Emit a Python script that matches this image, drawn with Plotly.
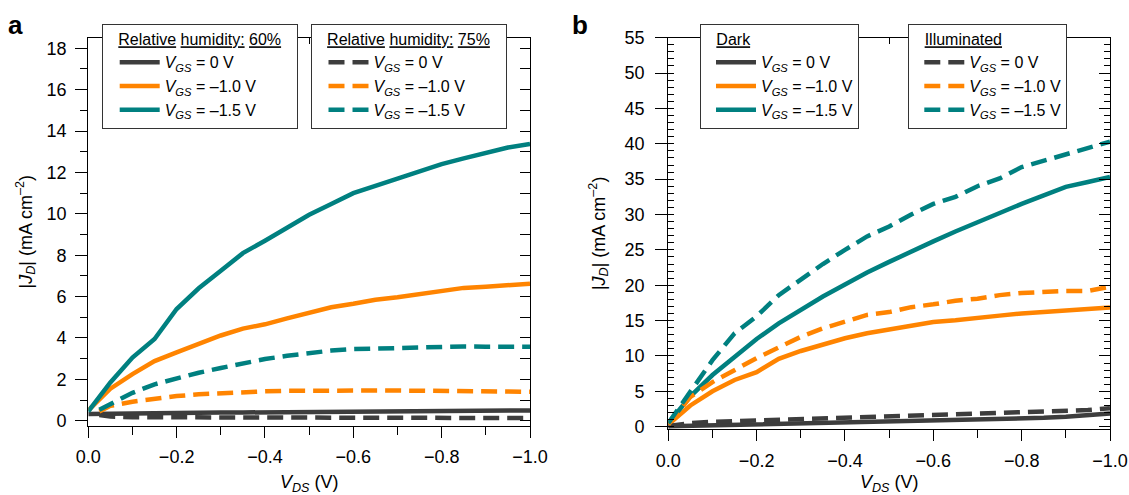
import plotly.graph_objects as go

# ---------------- data ----------------
VDS = [0.0, -0.05, -0.10, -0.15, -0.20, -0.25, -0.30, -0.35, -0.40, -0.45, -0.50,
       -0.55, -0.60, -0.65, -0.70, -0.75, -0.80, -0.85, -0.90, -0.95, -1.00]
VDS_75 = [-0.025, -0.05, -0.10, -0.15, -0.20, -0.25, -0.30, -0.35, -0.40, -0.45, -0.50,
          -0.55, -0.60, -0.65, -0.70, -0.75, -0.80, -0.85, -0.90, -0.95, -1.00]

# panel a : relative humidity 60 % (solid) / 75 % (dashed)
A60_VGS0 = [0.33, 0.35, 0.36, 0.37, 0.38, 0.39, 0.40, 0.40, 0.41, 0.42, 0.42,
            0.43, 0.44, 0.44, 0.45, 0.46, 0.47, 0.47, 0.48, 0.49, 0.50]
A60_VGS10 = [0.50, 1.55, 2.25, 2.88, 3.30, 3.70, 4.12, 4.45, 4.66, 4.95, 5.23,
             5.48, 5.65, 5.85, 5.97, 6.13, 6.28, 6.42, 6.48, 6.55, 6.62]
A60_VGS15 = [0.45, 1.85, 3.05, 3.95, 5.40, 6.40, 7.25, 8.10, 8.70, 9.35, 9.95,
             10.47, 11.00, 11.35, 11.70, 12.07, 12.40, 12.68, 12.95, 13.20, 13.38]
A75_VGS0 = [0.28, 0.20, 0.17, 0.17, 0.16, 0.16, 0.16, 0.15, 0.15, 0.15, 0.15,
            0.15, 0.14, 0.14, 0.14, 0.14, 0.14, 0.13, 0.13, 0.13, 0.13]
A75_VGS10 = [0.45, 0.72, 0.92, 1.08, 1.19, 1.28, 1.34, 1.39, 1.42, 1.45, 1.46,
             1.47, 1.47, 1.46, 1.46, 1.45, 1.44, 1.42, 1.41, 1.40, 1.40]
A75_VGS15 = [0.53, 0.80, 1.35, 1.76, 2.05, 2.32, 2.55, 2.78, 2.98, 3.14, 3.28,
             3.39, 3.46, 3.49, 3.52, 3.54, 3.58, 3.59, 3.58, 3.58, 3.58]

# panel b : dark (solid) / illuminated (dashed)
B_DARK_VGS0 = [0.05, 0.12, 0.20, 0.28, 0.36, 0.42, 0.48, 0.53, 0.58, 0.62, 0.67,
               0.72, 0.78, 0.85, 0.93, 1.02, 1.12, 1.25, 1.40, 1.60, 1.85]
B_DARK_VGS10 = [0.3, 3.0, 5.0, 6.6, 7.7, 9.6, 10.7, 11.6, 12.5, 13.2, 13.7,
                14.3, 14.8, 15.05, 15.45, 15.7, 16.0, 16.2, 16.4, 16.75, 16.85]
B_DARK_VGS15 = [0.5, 4.3, 7.3, 9.9, 12.4, 14.6, 16.5, 18.4, 20.1, 21.8, 23.3,
                24.8, 26.2, 27.6, 28.9, 30.3, 31.5, 32.7, 33.9, 34.6, 35.3]
B_ILL_VGS0 = [0.10, 0.50, 0.68, 0.78, 0.88, 0.96, 1.03, 1.10, 1.20, 1.35, 1.46,
              1.52, 1.58, 1.66, 1.76, 1.85, 1.95, 2.05, 2.17, 2.35, 2.60]
B_ILL_VGS10 = [0.3, 4.2, 6.3, 8.0, 9.7, 11.2, 12.7, 13.9, 14.8, 15.8, 16.2,
               16.9, 17.3, 17.8, 18.1, 18.6, 18.9, 19.1, 19.2, 19.2, 19.8]
B_ILL_VGS15 = [0.5, 4.9, 9.4, 13.2, 15.6, 18.6, 20.8, 23.0, 25.0, 26.9, 28.3,
               30.0, 31.5, 32.5, 34.0, 35.1, 36.7, 37.6, 38.5, 39.4, 40.3]

VGS_LABELS = ["<i>V</i><sub><i>GS</i></sub> = 0 V",
              "<i>V</i><sub><i>GS</i></sub> = –1.0 V",
              "<i>V</i><sub><i>GS</i></sub> = –1.5 V"]
NB = "\u00a0"
LEGEND_TITLES = [NB * 3 + "<u>Relative</u> <u>humidity:</u> <u>60%</u>" + NB * 3,
                 NB * 3 + "<u>Relative</u> <u>humidity:</u> <u>75%</u>" + NB * 3,
                 NB * 3 + "<u>Dark</u>", NB * 3 + "<u>Illuminated</u>"]
COLORS = ["#3d3d3d", "#ff8400", "#008080"]

FONT = "Liberation Sans, Arial, Helvetica, sans-serif"
LW = 4.5
DASH = "16px,8px"

fig = go.Figure()

groups = [
    ("x", "y", VDS, [A60_VGS0, A60_VGS10, A60_VGS15], "solid", "legend"),
    ("x", "y", VDS_75, [A75_VGS0, A75_VGS10, A75_VGS15], DASH, "legend2"),
    ("x2", "y2", VDS, [B_DARK_VGS0, B_DARK_VGS10, B_DARK_VGS15], "solid", "legend3"),
    ("x2", "y2", VDS, [B_ILL_VGS0, B_ILL_VGS10, B_ILL_VGS15], DASH, "legend4"),
]
for xa, ya, xs, series, dash, leg in groups:
    for i, ys in enumerate(series):
        fig.add_trace(go.Scatter(
            x=xs, y=ys, xaxis=xa, yaxis=ya, mode="lines",
            line=dict(color=COLORS[i], width=LW, dash=dash),
            name=VGS_LABELS[i], legend=leg, legendgroup=leg + str(i),
            hoverinfo="skip"))

# ---------------- axes ----------------
W, H = 1129, 495
XA = [88.3 / W, 530 / W]
XB = [668.3 / W, 1110 / W]
YA = [(H - 425.7) / H, (H - 37.7) / H]
YB = [(H - 429) / H, (H - 37.7) / H]
RA = [-0.24, 18.51]
RB = [-0.33, 55]

tickfont = dict(family=FONT, size=18, color="black")
titlefont = dict(family=FONT, size=18, color="black")
common_line = dict(showline=True, linecolor="black", linewidth=1.3,
                   showgrid=False, zeroline=False, mirror=True, automargin=False)

xcommon = dict(range=[0, -1], dtick=0.2, tick0=0, tickformat=".1f",
               ticks="outside", ticklen=11, tickwidth=1.3, tickcolor="black",
               minor=dict(dtick=0.1, ticks="outside", ticklen=8, tickwidth=1.3,
                          tickcolor="black"),
               tickfont=tickfont, ticklabelstandoff=4,
               title=dict(text="<i>V</i><sub><i>DS</i></sub> (V)", font=titlefont,
                          standoff=11),
               **common_line)

ytitle = "|<i>J</i><sub><i>D</i></sub>| (mA cm<sup>–2</sup>)"

overlay_common = dict(showticklabels=False, showline=False, showgrid=False,
                      zeroline=False, automargin=False, tickwidth=1.3,
                      tickcolor="black")

fig.update_layout(
    xaxis=dict(domain=XA, anchor="y", **xcommon),
    xaxis2=dict(domain=XB, anchor="y2", **xcommon),
    yaxis=dict(domain=YA, anchor="x", range=RA, dtick=2, tick0=0,
               ticks="outside", ticklen=12, tickwidth=1.3, tickcolor="black",
               minor=dict(dtick=1, ticks="outside", ticklen=7, tickwidth=1.3,
                          tickcolor="black"),
               tickfont=tickfont, ticklabelstandoff=5,
               title=dict(text=ytitle, font=titlefont, standoff=9),
               **common_line),
    yaxis2=dict(domain=YB, anchor="x2", range=RB, dtick=5, tick0=0,
                ticks="outside", ticklen=12, tickwidth=1.3, tickcolor="black",
                minor=dict(dtick=1, ticks="inside", ticklen=6, tickwidth=1.3,
                           tickcolor="black"),
                tickfont=tickfont, ticklabelstandoff=7,
                title=dict(text=ytitle, font=titlefont, standoff=14),
                **common_line),
    # inward tick marks on the right and top frames
    yaxis3=dict(overlaying="y", side="right", anchor="x", range=RA, dtick=1, tick0=0,
                ticks="inside", ticklen=10, **overlay_common),
    yaxis4=dict(overlaying="y2", side="right", anchor="x2", range=RB, dtick=5, tick0=0,
                ticks="inside", ticklen=11,
                minor=dict(dtick=1, ticks="inside", ticklen=6, tickwidth=1.3,
                           tickcolor="black"),
                **overlay_common),
    xaxis3=dict(overlaying="x", side="top", anchor="y", range=[0, -1], dtick=0.5, tick0=0,
                ticks="inside", ticklen=6, **overlay_common),
    xaxis4=dict(overlaying="x2", side="top", anchor="y2", range=[0, -1], dtick=0.5, tick0=0,
                ticks="inside", ticklen=6, **overlay_common),
)

# invisible traces that activate the overlay axes
for xa, ya in [("x3", "y3"), ("x4", "y4")]:
    fig.add_trace(go.Scatter(x=[None], y=[None], xaxis=xa, yaxis=ya,
                             showlegend=False, hoverinfo="skip"))

legend_x = [101.7 / W, 310.5 / W, 700 / W, 908.3 / W]
legend_sides = ["top center", "top center", "top", "top"]
legend_indent = [12, 12, 10, 10]
for k, key in enumerate(["legend", "legend2", "legend3", "legend4"]):
    fig.update_layout({key: dict(
        x=legend_x[k], y=1 - 23.5 / H, xanchor="left", yanchor="top",
        bgcolor="white", bordercolor="#333333", borderwidth=1,
        font=dict(family=FONT, size=16, color="black"),
        title=dict(text=LEGEND_TITLES[k], side=legend_sides[k],
                   font=dict(family=FONT, size=16, color="black")),
        itemwidth=40, tracegroupgap=3, traceorder="normal",
        indentation=legend_indent[k])})

fig.add_annotation(text="<b>a</b>", x=15 / W, y=1 - 25 / H, xref="paper", yref="paper",
                   xanchor="center", yanchor="middle", showarrow=False,
                   font=dict(family=FONT, size=26, color="black"))
fig.add_annotation(text="<b>b</b>", x=580 / W, y=1 - 25 / H, xref="paper", yref="paper",
                   xanchor="center", yanchor="middle", showarrow=False,
                   font=dict(family=FONT, size=26, color="black"))

fig.update_layout(width=W, height=H, margin=dict(l=0, r=0, t=0, b=0, autoexpand=False),
                  paper_bgcolor="white", plot_bgcolor="white",
                  font=dict(family=FONT, color="black"))

fig.write_html("out.html")
